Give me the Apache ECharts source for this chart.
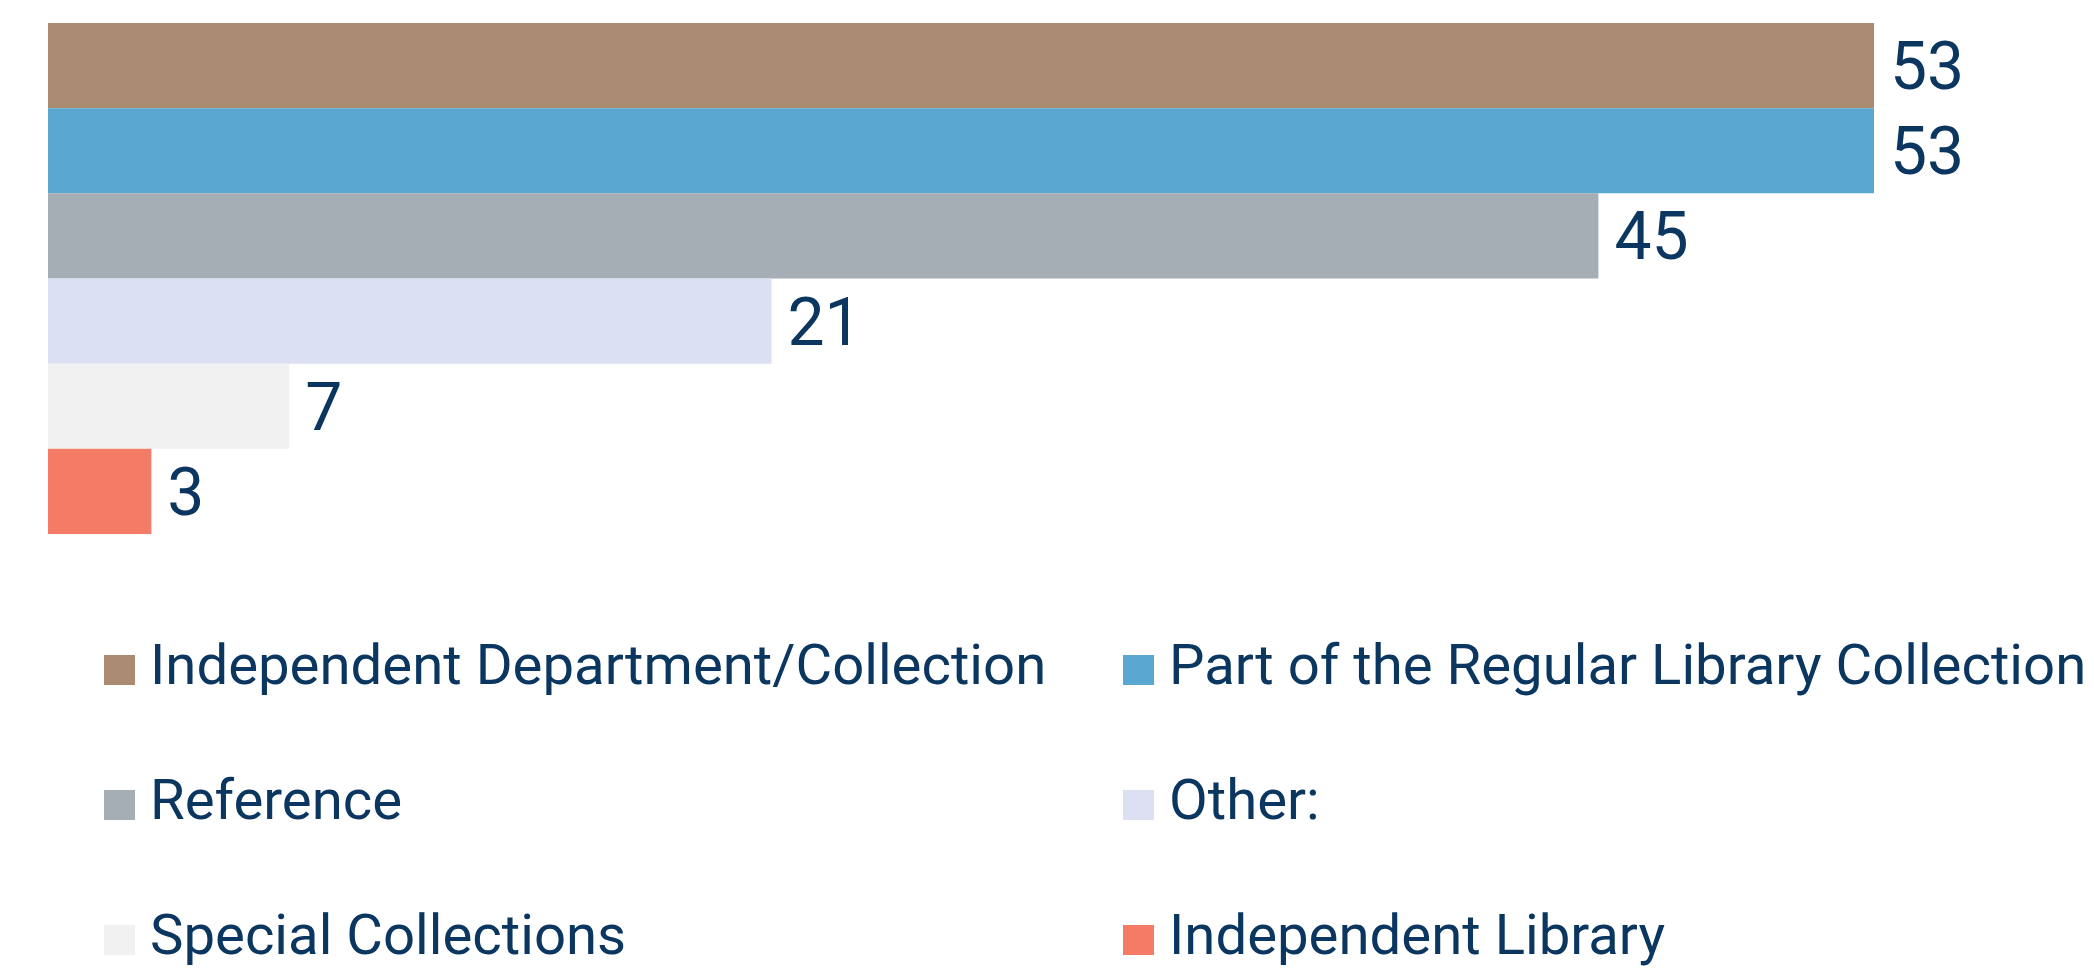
<!DOCTYPE html>
<html>
<head>
<meta charset="utf-8">
<script src="https://cdn.jsdelivr.net/npm/echarts@6/dist/echarts.min.js"></script>
<style>
  html, body { margin: 0; padding: 0; background: #fff; }
  #main { width: 2094px; height: 969px; }
</style>
</head>
<body>
<div id="main"></div>
<script>
// 数据
var seriesNames = [
    'Independent Department/Collection',
    'Part of the Regular Library Collection',
    'Reference',
    'Other:',
    'Special Collections',
    'Independent Library'
];
var seriesValues = [53, 53, 45, 21, 7, 3];
var seriesColors = ['#ab8b72', '#5aa8d1', '#a4aeb4', '#dbe0f2', '#f1f1f1', '#f47c67'];
var categories = [''];

var textColor = '#0a3660';

var myChart = echarts.init(document.getElementById('main'));

var series = seriesNames.map(function (name, i) {
    return {
        name: name,
        type: 'bar',
        data: [seriesValues[i]],
        barGap: 0,
        barCategoryGap: 0,
        itemStyle: { color: seriesColors[i] },
        label: {
            show: true,
            position: 'right',
            distance: 16,
            offset: [0, 7],
            color: textColor,
            fontSize: 66,
            fontFamily: 'Roboto'
        }
    };
});

// 图例：两列三行，每项一个 legend
var legendLefts = [104, 1123];
var legendTops = [636, 771, 906];
var legends = seriesNames.map(function (name, i) {
    return {
        left: legendLefts[i % 2],
        top: legendTops[Math.floor(i / 2)],
        padding: 0,
        itemWidth: 31,
        itemHeight: 30,
        icon: 'rect',
        data: [name],
        selectedMode: false,
        textStyle: {
            color: textColor,
            fontSize: 56.3,
            fontFamily: 'Roboto',
            lineHeight: 60,
            padding: [8, 0, 0, 10]
        }
    };
});

option = {
    animation: false,
    grid: { left: 48, right: 220, top: 23, height: 511, containLabel: false },
    xAxis: {
        type: 'value',
        min: 0,
        max: 53,
        show: false
    },
    yAxis: {
        type: 'category',
        data: categories,
        inverse: true,
        show: false
    },
    legend: legends,
    series: series
};

myChart.setOption(option);
</script>
</body>
</html>
